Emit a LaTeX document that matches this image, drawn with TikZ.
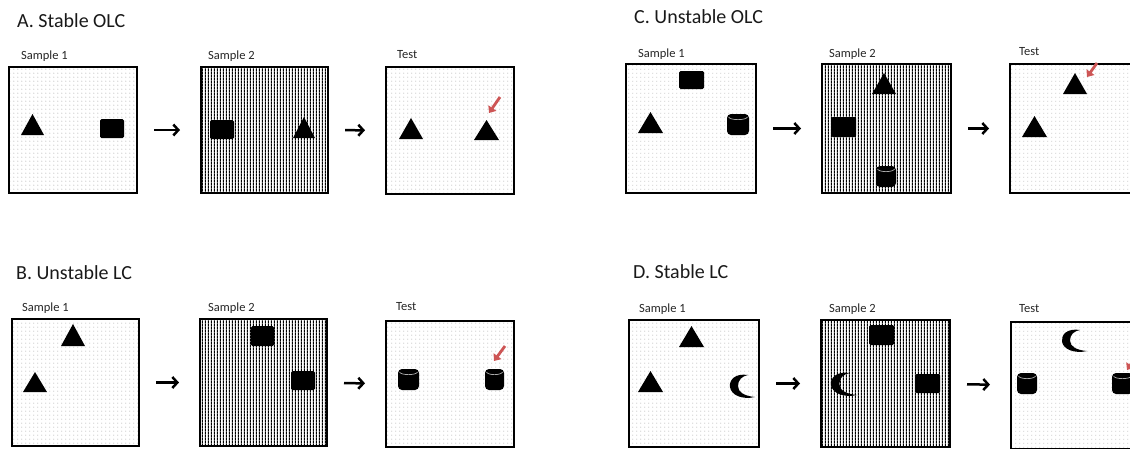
\documentclass[tikz,border=0pt]{standalone}
\usepackage{fontspec}
\setmainfont{Carlito}
\usetikzlibrary{arrows.meta,patterns}
\pgfdeclarepatternformonly{pdots}{\pgfpointorigin}{\pgfpoint{4.3pt}{4.3pt}}{\pgfpoint{4.3pt}{4.3pt}}{\pgfpathcircle{\pgfpoint{2.15pt}{2.15pt}}{0.45pt}\pgfusepath{fill}}
\pgfdeclarepatternformonly{pstripes}{\pgfpointorigin}{\pgfpoint{3.3pt}{3.3pt}}{\pgfpoint{3.3pt}{3.3pt}}{\pgfpathrectangle{\pgfpoint{1pt}{0pt}}{\pgfpoint{1.2pt}{3.3pt}}\pgfusepath{fill}}
\definecolor{redarrow}{RGB}{205,85,85}
\tikzset{
  dotbox/.style={draw, line width=2.6pt, pattern=pdots, pattern color=black!55, inner sep=0pt, outer sep=0pt},
  linebox/.style={draw, line width=2.6pt, pattern=pstripes, pattern color=black, inner sep=0pt, outer sep=0pt},
  ttl/.style={anchor=base west, inner sep=0pt, font=\fontsize{20}{24}\selectfont, text=black!90},
  lbl/.style={anchor=base west, inner sep=0pt, font=\fontsize{12.5}{15}\selectfont, text=black!85},
  arr/.style={line width=2.5pt, -{Straight Barb[length=5pt,width=11pt]}, shorten <=17pt, shorten >=21pt},
  redarr/.style={draw=redarrow, line width=2.8pt, -{Triangle[length=6pt,width=9.5pt]}},
  obj/.style={fill=black}
}
\newcommand\shpTri[4]{\fill[obj] (#1,#4) -- ({(#1+#3)/2},#2) -- (#3,#4) -- cycle;}
\newcommand\shpSq[4]{\fill[obj, rounded corners=1.5pt] (#1,#2) rectangle (#3,#4);}
\newcommand\shpCyl[4]{\fill[obj, rounded corners=4pt] (#1,#2) rectangle (#3,#4);
  \draw[gray!65, line width=0.7pt] (#1+1.5,#2+3) .. controls (#1+3,#2+6.5) and (#3-3,#2+6.5) .. (#3-1.5,#2+3);}
\newcommand\shpMoon[4]{\begin{scope}[shift={(#1,#2)}, xscale={(#3-#1)/24}, yscale={(#4-#2)/24}]
  \fill[obj] (18,1) .. controls (5,-1) and (-1,6) .. (0,13) .. controls (1,21) and (12,26) .. (25,23) .. controls (14,22) and (8,18) .. (8,12) .. controls (8,6) and (12,2) .. (18,1) -- cycle;
\end{scope}}
\begin{document}
\begin{tikzpicture}[x=1pt, y=-1pt]
\useasboundingbox (0,0) rectangle (1130,448);
\clip (0,0) rectangle (1130,448);

% ---------- titles ----------
\node[ttl] (tA) at (17,27) {A. Stable OLC};
\node[ttl] (tC) at (634,23) {C. Unstable OLC};
\node[ttl] (tB) at (16,279) {B. Unstable LC};
\node[ttl] (tD) at (633,278) {D. Stable LC};

% ---------- panel A ----------
\node[lbl] (la1) at (21,59) {Sample 1};
\node[lbl] (la2) at (208,59) {Sample 2};
\node[lbl] (la3) at (397,58) {Test};
\node[dotbox, minimum width=128pt, minimum height=126pt] (a1) at (73,130) {};
\node[linebox, minimum width=127pt, minimum height=126pt] (a2) at (264.5,130) {};
\node[dotbox, minimum width=128pt, minimum height=127pt] (a3) at (450,130.5) {};
\draw[arr] (a1) -- (a2);
\draw[arr] (a2) -- (a3);
\shpTri{21}{114}{44}{135}
\shpSq{100}{119}{124}{138}
\shpSq{210}{120}{234}{139}
\shpTri{293}{117}{315}{138}
\shpTri{399}{118}{423}{139}
\shpTri{474}{120}{499}{140}
\coordinate (ra1) at (500,97);
\coordinate (ra2) at (489,113);
\draw[redarr] (ra1) -- (ra2);

% ---------- panel C ----------
\node[lbl] (lc1) at (638,57) {Sample 1};
\node[lbl] (lc2) at (829,57) {Sample 2};
\node[lbl] (lc3) at (1019,55) {Test};
\node[dotbox, minimum width=130pt, minimum height=129pt] (c1) at (691,128.5) {};
\node[linebox, minimum width=129pt, minimum height=129pt] (c2) at (886.5,128.5) {};
\node[dotbox, minimum width=130pt, minimum height=129pt] (c3) at (1075,128.5) {};
\draw[arr] (c1) -- (c2);
\draw[arr] (c2) -- (c3);
\shpSq{679}{71}{704}{89}
\shpTri{638}{112}{663}{133}
\shpCyl{727}{114}{749}{135}
\shpTri{872}{73}{896}{94}
\shpSq{831}{117}{856}{137}
\shpCyl{876}{166}{896}{187}
\shpTri{1063}{73}{1087}{94}
\shpTri{1022}{116}{1047}{137}
\coordinate (rc1) at (1097,63);
\coordinate (rc2) at (1087,77);
\draw[redarr] (rc1) -- (rc2);

% ---------- panel B ----------
\node[lbl] (lb1) at (22,311) {Sample 1};
\node[lbl] (lb2) at (208,311) {Sample 2};
\node[lbl] (lb3) at (396,310) {Test};
\node[dotbox, minimum width=127pt, minimum height=127pt] (b1) at (75.5,382.5) {};
\node[linebox, minimum width=127pt, minimum height=127pt] (b2) at (263.5,382.5) {};
\node[dotbox, minimum width=128pt, minimum height=126pt] (b3) at (450,384) {};
\draw[arr] (b1) -- (b2);
\draw[arr] (b2) -- (b3);
\shpTri{61}{324}{85}{346}
\shpTri{23}{372}{47}{392}
\shpSq{251}{326}{274}{346}
\shpSq{291}{371}{315}{390}
\shpCyl{398}{369}{419}{390}
\shpCyl{485}{369}{504}{390}
\coordinate (rb1) at (505,346);
\coordinate (rb2) at (494,361);
\draw[redarr] (rb1) -- (rb2);

% ---------- panel D ----------
\node[lbl] (ld1) at (639,312) {Sample 1};
\node[lbl] (ld2) at (829,312) {Sample 2};
\node[lbl] (ld3) at (1019,312) {Test};
\node[dotbox, minimum width=130pt, minimum height=127pt] (d1) at (694,383.5) {};
\node[linebox, minimum width=129pt, minimum height=127pt] (d2) at (885.5,383.5) {};
\node[dotbox, minimum width=129pt, minimum height=127pt] (d3) at (1075.5,385.5) {};
\draw[arr] (d1) -- (d2);
\draw[arr] (d2) -- (d3);
\shpTri{679}{326}{704}{347}
\shpTri{638}{371}{663}{392}
\shpMoon{730}{374}{754}{398}
\shpSq{869}{325}{894}{345}
\shpMoon{831}{372}{856}{396}
\shpSq{915}{374}{940}{393}
\shpMoon{1062}{329}{1086}{352}
\shpCyl{1017}{373}{1037}{394}
\shpCyl{1112}{373}{1133}{394}
\coordinate (rd1) at (1137,355);
\coordinate (rd2) at (1127,370);
\draw[redarr] (rd1) -- (rd2);
\end{tikzpicture}
\end{document}
